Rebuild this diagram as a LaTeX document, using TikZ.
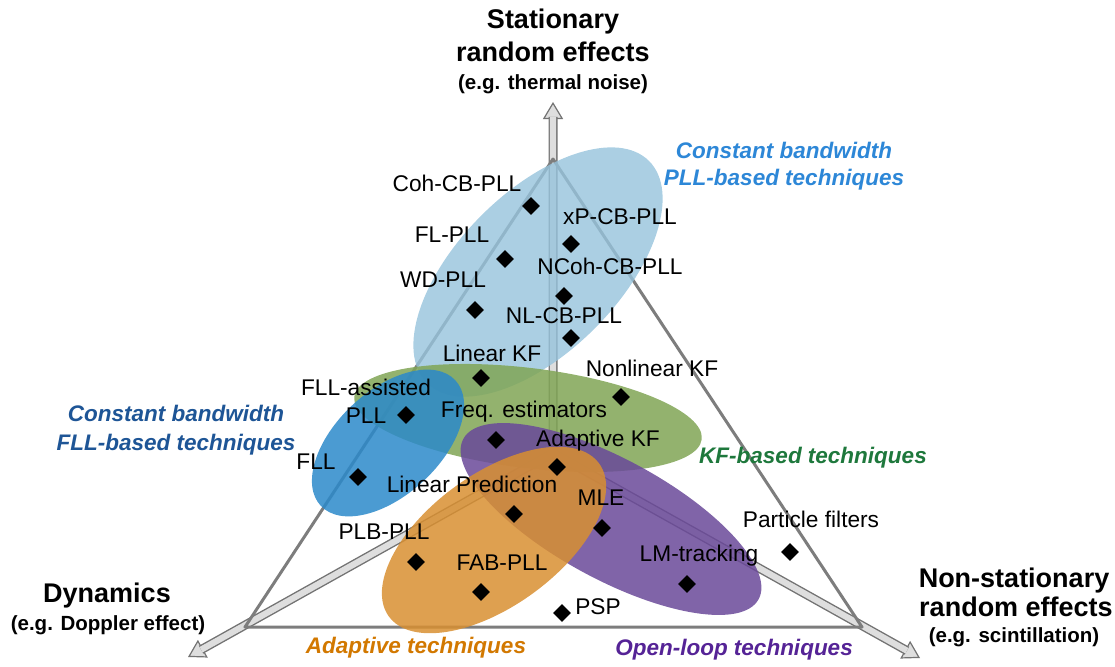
\documentclass[tikz,border=0pt]{standalone}
\usepackage{fontspec}
\setmainfont{Liberation Sans}
\usetikzlibrary{arrows.meta,calc,shapes.geometric,positioning}
\definecolor{triline}{RGB}{125,125,125}
\definecolor{shaftline}{RGB}{115,115,115}
\definecolor{shaftfill}{RGB}{222,222,222}
\definecolor{pllblue}{RGB}{150,195,220}
\definecolor{kfgreen}{RGB}{128,165,85}
\definecolor{fllblue}{RGB}{43,137,202}
\definecolor{olpurple}{RGB}{106,73,153}
\definecolor{adorange}{RGB}{216,143,49}
\definecolor{plltext}{RGB}{45,135,215}
\definecolor{flltext}{RGB}{30,85,150}
\definecolor{kftext}{RGB}{30,120,60}
\definecolor{adtext}{RGB}{210,120,0}
\definecolor{oltext}{RGB}{85,35,150}

\tikzset{
  algo/.style={diamond, fill=black, inner sep=0pt, minimum size=18pt},
  lbl/.style={font=\fontsize{22.7}{28}\selectfont, inner sep=0pt, anchor=mid},
  family/.style={font=\fontsize{22.5}{27}\selectfont\bfseries\itshape, align=center, inner sep=0pt},
  axtitle/.style={font=\fontsize{27}{33}\selectfont\bfseries, inner sep=0pt, anchor=base},
  axsub/.style={font=\fontsize{20.5}{25}\selectfont\bfseries, inner sep=0pt, anchor=base},
  shaftout/.style={draw=shaftline, line width=9pt},
  shaftin/.style={draw=shaftfill, line width=6.2pt},
  axtip/.style={draw=shaftline, line width=1.2pt, -{Triangle[length=17pt,width=20pt,fill=shaftfill]}},
  tri/.style={draw=triline, line width=3pt, line join=round},
  blob/.style={fill opacity=0.85}
}

\begin{document}
\begin{tikzpicture}[x=1pt,y=-1pt]
\useasboundingbox (0,0) rectangle (1115,666);
\coordinate (o)  at (553,453);
\coordinate (up) at (553,102);
\coordinate (dl) at (188,657);
\coordinate (dr) at (920,658);
\coordinate (va) at (553,159);
\coordinate (vb) at (245,627);
\coordinate (vc) at (862,627);

% axis arrows
\draw[axtip] ($(up)!20pt!(o)$) -- (up);
\draw[axtip] ($(dl)!20pt!(o)$) -- (dl);
\draw[axtip] ($(dr)!20pt!(o)$) -- (dr);
\draw[shaftout] (o) -- ($(up)!15pt!(o)$)
                (o) -- ($(dl)!15pt!(o)$)
                (o) -- ($(dr)!15pt!(o)$);
\draw[shaftin]  (o) -- ($(up)!15pt!(o)$)
                (o) -- ($(dl)!15pt!(o)$)
                (o) -- ($(dr)!15pt!(o)$);
\draw[tri] (va) -- (vb) -- (vc) -- cycle;

% technique families
\fill[blob, pllblue, fill opacity=0.8, rotate around={45:(538,272)}] (538,272) ellipse (157 and 80);
\fill[blob, kfgreen, rotate around={-7:(528,418)}] (528,418) ellipse (175 and 50);
\fill[blob, fllblue, rotate around={43:(388,443)}] (388,443) ellipse (92 and 52);
\fill[blob, olpurple, rotate around={-28.5:(611,519)}] (611,519) ellipse (168 and 60);
\fill[blob, adorange, rotate around={36:(494,540)}] (494,540) ellipse (130 and 66);

% algorithms
\node[algo] (coh)  at (531,206) {};
\node[algo] (xp)   at (571,244) {};
\node[algo] (fl)   at (505,259) {};
\node[algo] (ncoh) at (564,296) {};
\node[algo] (wd)   at (475,310) {};
\node[algo] (nl)   at (571,338) {};
\node[algo] (lkf)  at (481,378) {};
\node[algo] (nlkf) at (621,397) {};
\node[algo] (fpll) at (406,415) {};
\node[algo] (freq) at (496,440) {};
\node[algo] (akf)  at (557,467) {};
\node[algo] (fll)  at (358,477) {};
\node[algo] (lp)   at (514,514) {};
\node[algo] (mle)  at (602,528) {};
\node[algo] (plb)  at (416,562) {};
\node[algo] (fab)  at (481,592) {};
\node[algo] (pf)   at (790,552) {};
\node[algo] (lm)   at (687,584) {};
\node[algo] (psp)  at (562,613) {};

\node[lbl] (coh-t)  at (457,189) {Coh-CB-PLL};
\node[lbl] (xp-t)   at (620,222) {xP-CB-PLL};
\node[lbl] (fl-t)   at (452,240) {FL-PLL};
\node[lbl] (ncoh-t) at (610,272) {NCoh-CB-PLL};
\node[lbl] (wd-t)   at (443,285) {WD-PLL};
\node[lbl] (nl-t)   at (564,321) {NL-CB-PLL};
\node[lbl] (lkf-t)  at (492,359) {Linear KF};
\node[lbl] (nlkf-t) at (652,374) {Nonlinear KF};
\node[lbl, anchor=center, align=center] (fpll-t) at (366,401) {FLL-assisted\\PLL};
\node[lbl] (freq-t) at (524,415) {Freq. estimators};
\node[lbl] (akf-t)  at (598,444) {Adaptive KF};
\node[lbl] (fll-t)  at (316,467) {FLL};
\node[lbl] (lp-t)   at (472,490) {Linear Prediction};
\node[lbl] (mle-t)  at (601,503) {MLE};
\node[lbl] (plb-t)  at (384,537) {PLB-PLL};
\node[lbl] (fab-t)  at (502,568) {FAB-PLL};
\node[lbl] (pf-t)   at (811,525) {Particle filters};
\node[lbl] (lm-t)   at (699,559) {LM-tracking};
\node[lbl] (psp-t)  at (598,612) {PSP};

% family names
\node[family, text=plltext] (pll-fam) at (784,166) {Constant bandwidth\\PLL-based techniques};
\node[family, text=flltext, font=\fontsize{22.5}{29}\selectfont\bfseries\itshape] (fll-fam) at (176,430) {Constant bandwidth\\FLL-based techniques};
\node[family, text=kftext, anchor=mid] (kf-fam) at (813,461) {KF-based techniques};
\node[family, text=adtext, anchor=mid] (ad-fam) at (416,651) {Adaptive techniques};
\node[family, text=oltext, anchor=mid] (ol-fam) at (734,653) {Open-loop techniques};

% axis titles
\node[axtitle] (st1) at (553,29) {Stationary};
\node[axtitle] (st2) at (553,62) {random effects};
\node[axsub]   (st3) at (553,90) {(e.g. thermal noise)};
\node[axtitle] (dy1) at (107,602) {Dynamics};
\node[axsub]   (dy2) at (108,630) {(e.g. Doppler effect)};
\node[axtitle] (ns1) at (1014,587) {Non-stationary};
\node[axtitle] (ns2) at (1016,616) {random effects};
\node[axsub]   (ns3) at (1014,642) {(e.g. scintillation)};
\end{tikzpicture}
\end{document}
